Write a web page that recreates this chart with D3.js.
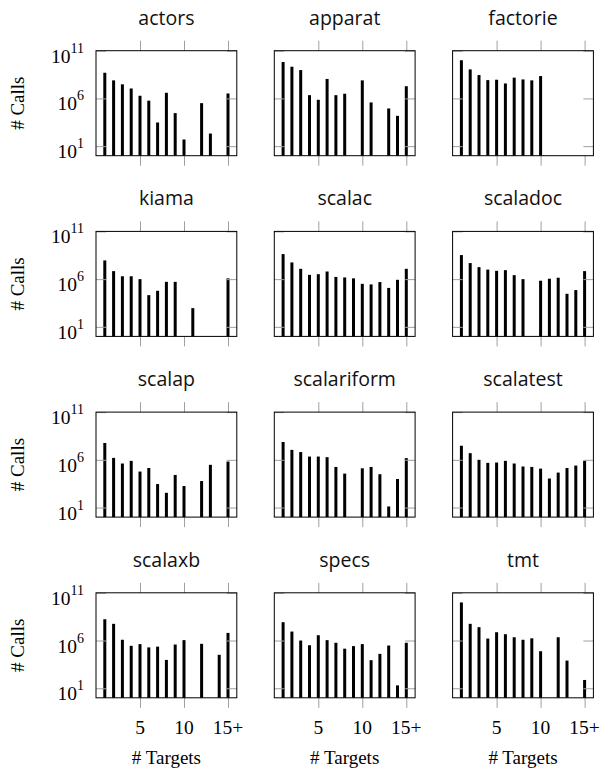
<!DOCTYPE html>
<html><head><meta charset="utf-8">
<script src="https://cdn.jsdelivr.net/npm/d3@7/dist/d3.min.js"></script>
<style>body{margin:0;background:#fff}svg{display:block}</style>
</head><body>
<svg id="chart" width="600" height="773"></svg>
<script>
// ---- data ----
const projects = ["actors","apparat","factorie","kiama","scalac","scaladoc","scalap","scalariform","scalatest","scalaxb","specs","tmt"];
const targets = [1,2,3,4,5,6,7,8,9,10,11,12,13,14,15];
const xTickValues = [5,10,15];
const xTickLabels = ["5","10","15+"];
const yTickValues = [1e1,1e6,1e11];
const yTickExponents = ["1","6","11"];

const actors      = [4.9e8,7.8e7,3.0e7,1.1e7,1.9e6,5.8e5,3.0e3,3.9e6,2.9e4,50,null,3.2e5,210,null,3.3e6];
const apparat     = [6.5e9,2.1e9,9.3e8,2.2e6,7.2e5,1.1e8,2.2e6,3.1e6,null,7.8e7,3.8e5,null,8.9e4,1.5e4,1.9e7];
const factorie    = [1.0e10,1.1e9,2.8e8,8.3e7,9.1e7,3.7e7,1.5e8,9.8e7,7.8e7,2.2e8,null,null,null,null,null];
const kiama       = [9.1e7,6.9e6,2.0e6,2.0e6,1.0e6,2.1e4,6.0e4,5.2e5,5.2e5,null,910,null,null,null,1.2e6];
const scalac      = [4.2e8,5.6e7,1.2e7,2.8e6,3.3e6,6.3e6,1.7e6,1.5e6,1.2e6,3.2e5,2.8e5,4.9e5,1.2e5,8.5e5,1.2e7];
const scaladoc    = [3.3e8,4.8e7,1.8e7,1.0e7,7.4e6,8.7e6,2.6e6,1.0e6,null,6.8e5,1.1e6,1.4e6,2.9e4,7.1e4,6.9e6];
const scalap      = [5.8e7,1.6e6,4.1e5,7.8e5,5.9e4,1.4e5,2.9e3,350,2.6e4,1.8e3,null,6.0e3,3.0e5,null,6.6e5];
const scalariform = [7.4e7,1.1e7,6.5e6,2.2e6,2.2e6,1.9e6,1.8e5,3.6e4,null,1.3e5,1.8e5,3.1e4,13,9.8e3,1.5e6];
const scalatest   = [3.0e7,5.0e6,1.0e6,4.8e5,5.2e5,7.8e5,4.1e5,2.0e5,1.8e5,1.2e5,1.1e4,4.6e4,1.4e5,2.5e5,7.8e5];
const scalaxb     = [1.7e8,5.6e7,1.2e6,2.8e5,4.2e5,1.9e5,2.3e5,9.3e3,3.8e5,1.1e6,null,4.5e5,null,3.2e4,6.3e6];
const specs       = [8.3e7,8.7e6,1.0e6,3.2e5,3.6e6,1.1e6,5.8e5,1.4e5,2.6e5,4.2e5,8.7e3,4.0e4,3.0e5,20,5.8e5];
const tmt         = [9.8e9,5.6e7,2.5e7,1.6e6,7.4e6,4.6e6,2.2e6,1.2e6,1.7e6,7.6e4,null,2.2e6,7.9e3,null,74];

const series = [actors,apparat,factorie,kiama,scalac,scaladoc,scalap,scalariform,scalatest,scalaxb,specs,tmt];

// ---- layout ----
const colX0 = 96, colStep = 178.3, pw = 140.8;
const rowY0 = 50.7, rowStep = 180.7, ph = 105;
const serif = "'Liberation Serif','Times New Roman',serif";
const sans = "'Open Sans','Noto Sans',sans-serif";
const tickColor = "#a0a0a0";

const svg = d3.select("#chart");
const x = d3.scaleLinear().domain([0,16]).range([0,pw]);
const y = d3.scaleLog().domain([1,1e11]).range([ph,0]);

projects.forEach((name,i)=>{
  const col = i%3, row = Math.floor(i/3);
  const g = svg.append("g").attr("transform",`translate(${colX0+col*colStep},${rowY0+row*rowStep})`);
  const data = targets.map((t,k)=>({t, v: series[i][k]})).filter(d=>d.v!=null);

  // bars
  g.selectAll("rect.bar").data(data).join("rect").attr("class","bar")
    .attr("x",d=>x(d.t)-1.5).attr("width",3)
    .attr("y",d=>y(d.v)).attr("height",d=>y(1)-y(d.v))
    .attr("fill","#000");

  // ticks
  const axB = d3.axisBottom(x).tickValues(xTickValues).tickSize(10).tickFormat("");
  const axT = d3.axisTop(x).tickValues(xTickValues).tickSize(10).tickFormat("");
  const axL = d3.axisLeft(y).tickValues(yTickValues).tickSize(-10).tickFormat("");
  const axR = d3.axisRight(y).tickValues(yTickValues).tickSize(-10).tickFormat("");
  [[axB,`translate(0,${ph})`],[axT,"translate(0,0)"],[axL,"translate(0,0)"],[axR,`translate(${pw},0)`]].forEach(([ax,tr])=>{
    const a = g.append("g").attr("transform",tr).call(ax);
    a.select(".domain").remove();
    a.selectAll(".tick line").attr("stroke",tickColor).attr("stroke-width",1);
  });

  // frame
  g.append("rect").attr("x",0).attr("y",0).attr("width",pw).attr("height",ph)
    .attr("fill","none").attr("stroke","#000").attr("stroke-width",1);

  // title
  g.append("text").attr("x",pw/2).attr("y",-26).attr("text-anchor","middle")
    .attr("font-family",sans).attr("font-size",19.5).attr("fill","#111").text(name);

  if(col===0){
    yTickValues.forEach((v,k)=>{
      const t = g.append("text").attr("x",-12).attr("y",y(v)+12).attr("text-anchor","end")
        .attr("font-family",serif).attr("font-size",19.5).attr("fill","#000");
      t.append("tspan").text("10");
      t.append("tspan").attr("dy",-10).attr("font-size",14).text(yTickExponents[k]);
    });
    g.append("text").attr("transform",`translate(${-72},${ph/2}) rotate(-90)`)
      .attr("text-anchor","middle").attr("font-family",serif).attr("font-size",19)
      .attr("fill","#000").text("# Calls");
  }
  if(row===3){
    xTickValues.forEach((v,k)=>{
      g.append("text").attr("x",x(v)).attr("y",ph+36).attr("text-anchor","middle")
        .attr("font-family",serif).attr("font-size",19.5).attr("fill","#000").text(xTickLabels[k]);
    });
    g.append("text").attr("x",pw/2).attr("y",ph+66).attr("text-anchor","middle")
      .attr("font-family",serif).attr("font-size",19).attr("fill","#000").text("# Targets");
  }
});
</script>
</body></html>
